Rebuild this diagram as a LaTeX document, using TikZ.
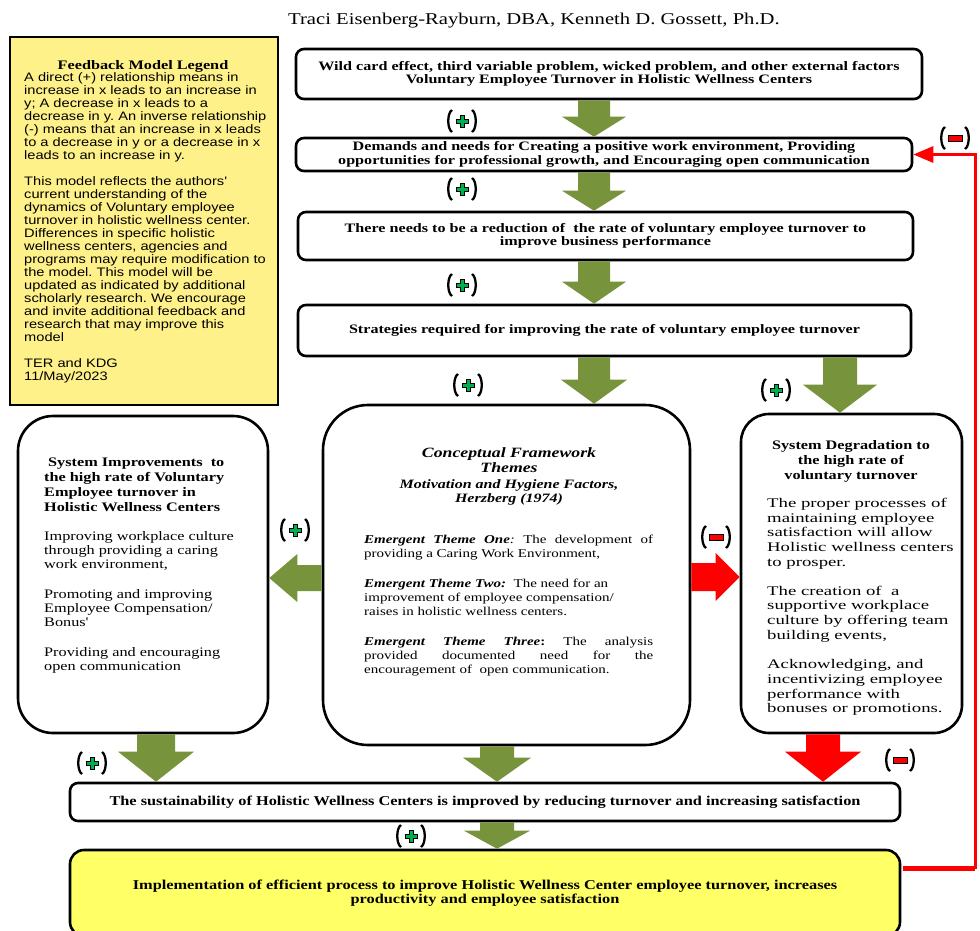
\documentclass[tikz,border=0pt]{standalone}
\usepackage{fontspec}
\setmainfont{Liberation Serif}
\newfontfamily\rs{Liberation Serif}[FakeStretch=1.25]
\newfontfamily\rsw{Liberation Serif}[FakeStretch=1.42]
\newfontfamily\rsn{Liberation Serif}[FakeStretch=1.21]
\newfontfamily\ls{Liberation Sans}[FakeStretch=1.19]
\usetikzlibrary{calc,arrows.meta}
\definecolor{olive}{HTML}{77933C}
\definecolor{legendyellow}{HTML}{FFF18A}
\definecolor{finalyellow}{HTML}{FFFF66}
\definecolor{plusgreen}{HTML}{00B050}
\definecolor{fbred}{HTML}{FF0000}
% vertical block arrow: colour, from, to, shaft half width, head half width, head length
\newcommand\varrow[6]{%
  \fill[#1] let \p1=#2, \p2=#3 in
    (\x1-#4pt,\y1) -- (\x1+#4pt,\y1) -- (\x1+#4pt,\y2+#6pt) -- (\x1+#5pt,\y2+#6pt)
    -- (\x1,\y2) -- (\x1-#5pt,\y2+#6pt) -- (\x1-#4pt,\y2+#6pt) -- cycle;}
% leftward block arrow
\newcommand\larrow[6]{%
  \fill[#1] let \p1=#2, \p2=#3 in
    (\x1,\y1-#4pt) -- (\x1,\y1+#4pt) -- (\x2+#6pt,\y1+#4pt) -- (\x2+#6pt,\y1+#5pt)
    -- (\x2,\y1) -- (\x2+#6pt,\y1-#5pt) -- (\x2+#6pt,\y1-#4pt) -- cycle;}
% rightward block arrow
\newcommand\rarrow[6]{%
  \fill[#1] let \p1=#2, \p2=#3 in
    (\x1,\y1-#4pt) -- (\x1,\y1+#4pt) -- (\x2-#6pt,\y1+#4pt) -- (\x2-#6pt,\y1+#5pt)
    -- (\x2,\y1) -- (\x2-#6pt,\y1-#5pt) -- (\x2-#6pt,\y1-#4pt) -- cycle;}
\tikzset{
  parens/.pic={
    \draw[line width=2.3pt] (-10,-11) .. controls (-15,-8) and (-15,8) .. (-10,11);
    \draw[line width=2.3pt] (10,-11) .. controls (15,-8) and (15,8) .. (10,11);},
  plusmark/.pic={
    \pic {parens};
    \filldraw[fill=plusgreen, draw=black, line width=0.8pt]
      (-2,-6) -- (2,-6) -- (2,-2) -- (6,-2) -- (6,2) -- (2,2) -- (2,6)
      -- (-2,6) -- (-2,2) -- (-6,2) -- (-6,-2) -- (-2,-2) -- cycle;},
  minusmark/.pic={
    \pic {parens};
    \filldraw[fill=fbred, draw=black, line width=0.8pt] (-7,-3) rectangle (7,3);},
  topbox/.style={draw, line width=2.6pt, rounded corners=8pt, fill=white, align=center,
    inner sep=2pt, font=\rs\bfseries\fontsize{12.9}{13.5}\selectfont},
  bigbox/.style={draw, line width=2.6pt, fill=white},
  txt/.style={inner sep=0pt, align=left},
  fbline/.style={draw=fbred},
}
\begin{document}
\frenchspacing
\begin{tikzpicture}[x=1pt,y=-1pt]
\useasboundingbox (0,0) rectangle (980,930);

% title
\node[inner sep=0, font=\rs\fontsize{16.5}{18}\selectfont, anchor=base] (title) at (534,24)
  {Traci Eisenberg-Rayburn, DBA, Kenneth D. Gossett, Ph.D.};

% legend
\node[draw, line width=2.6pt, fill=legendyellow, minimum width=268pt, minimum height=368pt] (leg) at (144,221) {};
\node[inner sep=0, anchor=base, font=\rs\bfseries\fontsize{13}{14}\selectfont] (legtitle) at (143,69) {Feedback Model Legend};
\node[txt, anchor=north west, font=\ls\fontsize{12.3}{13}\selectfont] (legtext) at (24,72)
  {A direct (+) relationship means in\\
   increase in x leads to an increase in\\
   y; A decrease in x leads to a\\
   decrease in y. An inverse relationship\\
   (-) means that an increase in x leads\\
   to a decrease in y or a decrease in x\\
   leads to an increase in y.\\[13pt]
   This model reflects the authors'\\
   current understanding of the\\
   dynamics of Voluntary employee\\
   turnover in holistic wellness center.\\
   Differences in specific holistic\\
   wellness centers, agencies and\\
   programs may require modification to\\
   the model. This model will be\\
   updated as indicated by additional\\
   scholarly research. We encourage\\
   and invite additional feedback and\\
   research that may improve this\\
   model\\[13pt]
   TER and KDG\\
   11/May/2023};

% top chain
\node[topbox, minimum width=626pt, minimum height=50pt] (b1) at (609,74)
  {Wild card effect, third variable problem, wicked problem, and other external factors\\
   Voluntary Employee Turnover in Holistic Wellness Centers};
\node[topbox, minimum width=616pt, minimum height=33pt] (b2) at (604,154.5)
  {Demands and needs for Creating a positive work environment, Providing\\
   opportunities for professional growth, and Encouraging open communication};
\node[topbox, minimum width=615pt, minimum height=48pt] (b3) at (605.5,236)
  {There needs to be a reduction of\ \ the rate of voluntary employee turnover to\\
   improve business performance};
\node[topbox, minimum width=613pt, minimum height=51pt] (b4) at (604.5,330.5)
  {Strategies required for improving the rate of voluntary employee turnover};

% three theme boxes
\node[bigbox, rounded corners=35pt, minimum width=250pt, minimum height=317pt] (left) at (143,574.5) {};
\node[bigbox, rounded corners=45pt, minimum width=367pt, minimum height=340pt] (center) at (506.5,575) {};
\node[bigbox, rounded corners=28pt, minimum width=221pt, minimum height=319pt] (right) at (851.5,573.5) {};

% left box text
\node[txt, anchor=north west, font=\rs\bfseries\fontsize{13}{15}\selectfont] (lefttitle) at (44,458)
  {\hspace{4pt}System Improvements\ \ to\\
   the high rate of Voluntary\\
   Employee turnover in\\
   Holistic Wellness Centers};
\node[txt, anchor=north west, font=\rs\fontsize{13}{14.3}\selectfont] (leftbody) at (44,531)
  {Improving workplace culture\\
   through providing a caring\\
   work environment,\\[15pt]
   Promoting and improving\\
   Employee Compensation/\\
   Bonus'\\[15pt]
   Providing and encouraging\\
   open communication};

% center box text
\node[inner sep=0, align=center, anchor=north, font=\rs\bfseries\itshape\fontsize{14.2}{15.2}\selectfont] (ctitle) at (509,447)
  {Conceptual Framework\\Themes};
\node[inner sep=0, align=center, anchor=north, font=\rs\bfseries\itshape\fontsize{12.8}{14.5}\selectfont] (csub) at (509,479)
  {Motivation and Hygiene Factors,\\Herzberg (1974)};
\node[txt, anchor=north west, font=\rs\fontsize{12}{14.3}\selectfont] (cbody) at (364,535)
  {\makebox[289pt][s]{{\bfseries\itshape Emergent Theme One}\textit{:} The development of}\\
   providing a Caring Work Environment,\\[15pt]
   {\bfseries\itshape Emergent Theme Two:}\ \ The need for an\\
   improvement of employee compensation/\\
   raises in holistic wellness centers.\\[15pt]
   \makebox[289pt][s]{{\bfseries\itshape Emergent Theme Three}\textbf{:} The analysis}\\
   \makebox[289pt][s]{provided documented need for the}\\
   encouragement of\ \ open communication.};

% right box text
\node[inner sep=0, align=center, anchor=north, font=\rs\bfseries\fontsize{13}{15}\selectfont] (rtitle) at (851,440)
  {System Degradation to\\the high rate of\\voluntary turnover};
\node[txt, anchor=north west, font=\rsw\fontsize{13.2}{14.7}\selectfont] (rbody) at (767,498)
  {The proper processes of\\
   maintaining employee\\
   satisfaction will allow\\
   Holistic wellness centers\\
   to prosper.\\[14pt]
   The creation of\ \ a\\
   supportive workplace\\
   culture by offering team\\
   building events,\\[15pt]
   Acknowledging, and\\
   incentivizing employee\\
   performance with\\
   bonuses or promotions.};

% bottom boxes
\node[draw, line width=2.6pt, rounded corners=8pt, fill=white, minimum width=830pt, minimum height=38pt,
  font=\rsn\bfseries\fontsize{13.5}{14}\selectfont] (sust) at (485,802)
  {The sustainability of Holistic Wellness Centers is improved by reducing turnover and increasing satisfaction};
\node[draw, line width=2.6pt, rounded corners=14pt, fill=finalyellow, minimum width=830pt, minimum height=86pt,
  align=center, font=\rsn\bfseries\fontsize{13.5}{14}\selectfont] (final) at (485,893)
  {Implementation of efficient process to improve Holistic Wellness Center employee turnover, increases\\
   productivity and employee satisfaction};

% arrow columns
\coordinate (cA) at (594,0);
\coordinate (cR) at (840,0);
\coordinate (cL) at (156,0);
\coordinate (cM) at (497,0);
\coordinate (cD) at (823,0);
\coordinate (hL) at (0,578);
\coordinate (hR) at (0,577);

\varrow{olive}{(b1.south -| cA)}{(b2.north -| cA)}{16}{32}{20}
\varrow{olive}{(b2.south -| cA)}{(b3.north -| cA)}{16}{32}{20}
\varrow{olive}{(b3.south -| cA)}{(b4.north -| cA)}{16}{32}{22}
\varrow{olive}{(b4.south -| cA)}{(center.north -| cA)}{16}{33}{24}
\varrow{olive}{(b4.south -| cR)}{(right.north -| cR)}{17}{37}{28}
\larrow{olive}{(center.west |- hL)}{(left.east |- hL)}{13}{24}{28}
\rarrow{fbred}{(center.east |- hR)}{(right.west |- hR)}{14}{24}{24}
\varrow{olive}{(left.south -| cL)}{(sust.north -| cL)}{19}{38}{30}
\varrow{olive}{(center.south -| cM)}{(sust.north -| cM)}{17}{34}{24}
\varrow{fbred}{(right.south -| cD)}{(sust.north -| cD)}{17}{38}{30}
\varrow{olive}{(sust.south -| cM)}{(final.north -| cM)}{17}{33}{18}

% feedback loop
\coordinate (fbR) at (975,0);
\coordinate (fs) at ($(final.north east)+(2,20)$);
\draw[fbline, line width=5pt] (fs) -- (fs -| fbR);
\draw[fbline, line width=3pt, -{Triangle[length=20pt,width=16pt]}]
  (fs -| fbR) -- (b2.east -| fbR) -- (b2.east);

% relationship marks
\pic (p1) at (462,121) {plusmark};
\pic (p2) at (462,189) {plusmark};
\pic (p3) at (462,285) {plusmark};
\pic (p4) at (468,385) {plusmark};
\pic (p5) at (776,390) {plusmark};
\pic (p6) at (295,530) {plusmark};
\pic (m1) at (716,537) {minusmark};
\pic (p7) at (92,763) {plusmark};
\pic (m2) at (900,760) {minusmark};
\pic (p8) at (411,836) {plusmark};
\pic (m3) at (955,138) {minusmark};
\end{tikzpicture}
\end{document}
